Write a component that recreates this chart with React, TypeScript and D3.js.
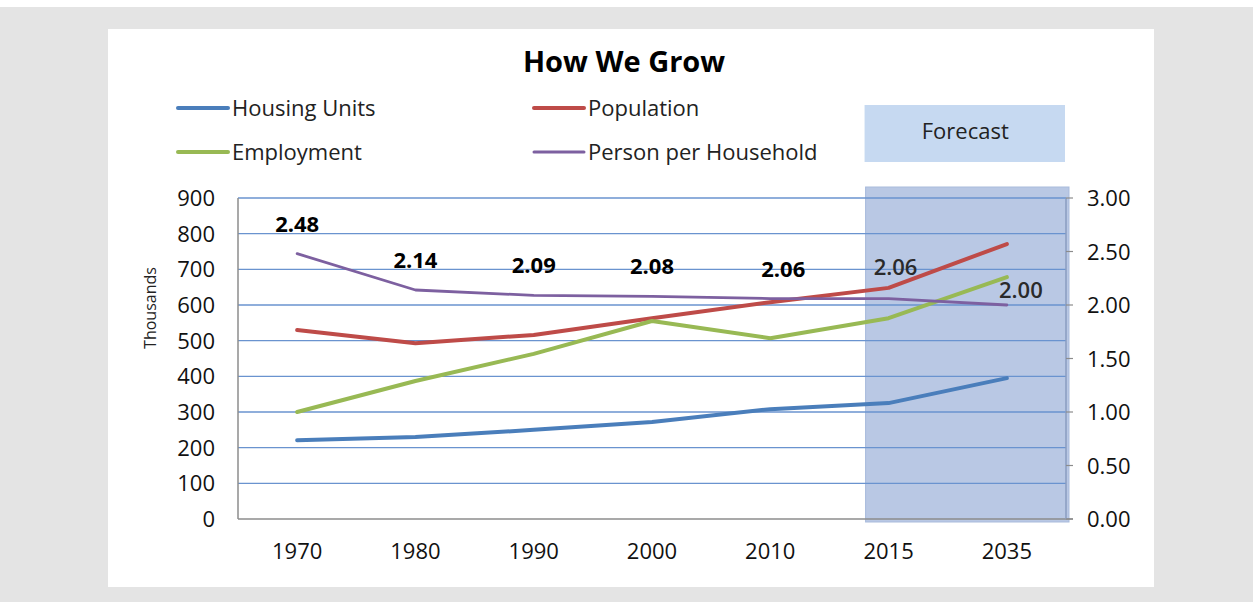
import React from "react";
import * as d3 from "d3";

const years = ["1970", "1980", "1990", "2000", "2010", "2015", "2035"];
const housingUnits = [221, 230, 250, 272, 308, 325, 395];
const population = [530, 493, 516, 563, 608, 648, 771];
const employment = [300, 387, 463, 555, 507, 563, 678];
const personPerHousehold = [2.48, 2.14, 2.09, 2.08, 2.06, 2.06, 2.0];
const leftTicks = [0, 100, 200, 300, 400, 500, 600, 700, 800, 900];
const rightTicks = [0, 0.5, 1, 1.5, 2, 2.5, 3];
const forecastYears = ["2015", "2035"];

const W = 1253;
const H = 602;
const FONT = "'Open Sans', 'Noto Sans', sans-serif";

export default function App() {
  const left = 238;
  const right = 1066;
  const top = 198;
  const bottom = 519;

  const x = d3.scaleBand<string>().domain(years).range([left, right]).padding(0);
  const cx = (d: string) => (x(d) as number) + x.bandwidth() / 2;
  const yL = d3.scaleLinear().domain([0, 900]).range([bottom, top]);
  const yR = d3.scaleLinear().domain([0, 3]).range([bottom, top]);

  const lineL = d3
    .line<number>()
    .x((_, i) => cx(years[i]))
    .y((d) => yL(d));
  const lineR = d3
    .line<number>()
    .x((_, i) => cx(years[i]))
    .y((d) => yR(d));

  const series = [
    { name: "Housing Units", values: housingUnits, color: "#4a7ebb" },
    { name: "Population", values: population, color: "#be4b48" },
    { name: "Employment", values: employment, color: "#98b954" },
  ];

  const fx0 = cx(forecastYears[0]) - 23;
  const fx1 = right + 3;

  const legend = [
    { name: "Housing Units", color: "#4a7ebb", lx: 178, ly: 108, w: 4 },
    { name: "Population", color: "#be4b48", lx: 534, ly: 108, w: 4 },
    { name: "Employment", color: "#98b954", lx: 178, ly: 152, w: 4 },
    { name: "Person per Household", color: "#7d60a0", lx: 534, ly: 152, w: 3 },
  ];

  return (
    <svg
      width={W}
      height={H}
      style={{ position: "absolute", left: 0, top: 0 }}
      fontFamily={FONT}
    >
      <rect x={0} y={0} width={W} height={H} fill="#ffffff" />
      <rect x={0} y={7} width={W} height={H - 7} fill="#e4e4e4" />
      <rect x={108} y={29} width={1046} height={558} fill="#ffffff" />

      {/* Title */}
      <text x={624} y={72} textAnchor="middle" fontSize={29} fontWeight="bold" fill="#000">
        How We Grow
      </text>

      {/* Legend */}
      {legend.map((l) => (
        <g key={l.name}>
          <line x1={l.lx} x2={l.lx + 50} y1={l.ly} y2={l.ly} stroke={l.color} strokeWidth={l.w} strokeLinecap="round" />
          <text x={l.lx + 54} y={l.ly + 8} fontSize={22} fill="#222">
            {l.name}
          </text>
        </g>
      ))}

      {/* Forecast label box */}
      <rect x={fx0 - 1} y={105} width={fx1 - fx0 - 3} height={57} fill="#c6d9f1" />
      <text x={(fx0 + fx1) / 2 - 2} y={139} textAnchor="middle" fontSize={22} fill="#222">
        Forecast
      </text>

      {/* Forecast shade */}
      <rect x={fx0} y={187} width={fx1 - fx0} height={bottom + 3 - 187} fill="#b9c8e4" stroke="#a9bbdc" strokeWidth={1} />

      {/* Gridlines */}
      {leftTicks.filter((t) => t > 0).map((t) => (
        <line key={t} x1={left} x2={right} y1={yL(t)} y2={yL(t)} stroke="#6a93cf" strokeWidth={1.3} />
      ))}

      {/* Axes */}
      <line x1={left} x2={left} y1={top} y2={bottom} stroke="#8c8c8c" strokeWidth={1.5} />
      <line x1={left} x2={right + 7} y1={bottom} y2={bottom} stroke="#8c8c8c" strokeWidth={1.5} />
      <line x1={right} x2={right} y1={top} y2={bottom} stroke="#8a9cc0" strokeWidth={1.5} />
      {rightTicks.map((t) => (
        <line key={t} x1={right} x2={right + 7} y1={yR(t)} y2={yR(t)} stroke="#8c8c8c" strokeWidth={1.2} />
      ))}

      {/* Left tick labels */}
      {leftTicks.map((t) => (
        <text key={t} x={215} y={yL(t) + 8} textAnchor="end" fontSize={22} fill="#111">
          {t}
        </text>
      ))}
      {/* Right tick labels */}
      {rightTicks.map((t) => (
        <text key={t} x={1087} y={yR(t) + 8} textAnchor="start" fontSize={22} fill="#111">
          {d3.format(".2f")(t)}
        </text>
      ))}
      {/* X labels */}
      {years.map((yv) => (
        <text key={yv} x={cx(yv)} y={559} textAnchor="middle" fontSize={22} fill="#111">
          {yv}
        </text>
      ))}

      {/* Y title */}
      <text
        transform="translate(156, 308) rotate(-90)"
        textAnchor="middle"
        fontSize={16}
        fill="#222"
      >
        Thousands
      </text>

      {/* Lines */}
      {series.map((s) => (
        <path key={s.name} d={lineL(s.values) as string} fill="none" stroke={s.color} strokeWidth={4} strokeLinejoin="round" strokeLinecap="round" />
      ))}
      <path d={lineR(personPerHousehold) as string} fill="none" stroke="#7d60a0" strokeWidth={2.8} strokeLinejoin="round" strokeLinecap="round" />

      {/* PPH labels */}
      {personPerHousehold.map((v, i) => {
        const isForecast = forecastYears.includes(years[i]);
        const last = i === years.length - 1;
        const dx = last ? 14 : isForecast ? 7 : i === 4 ? 13 : 0;
        const dy = last ? -15 : isForecast ? -32 : -30;
        return (
          <text
            key={years[i]}
            x={cx(years[i]) + dx}
            y={yR(v) + dy + 8}
            textAnchor="middle"
            fontSize={22}
            fontWeight={isForecast ? 600 : "bold"}
            fill={isForecast ? "#2a2a2a" : "#000"}
          >
            {d3.format(".2f")(v)}
          </text>
        );
      })}
    </svg>
  );
}
